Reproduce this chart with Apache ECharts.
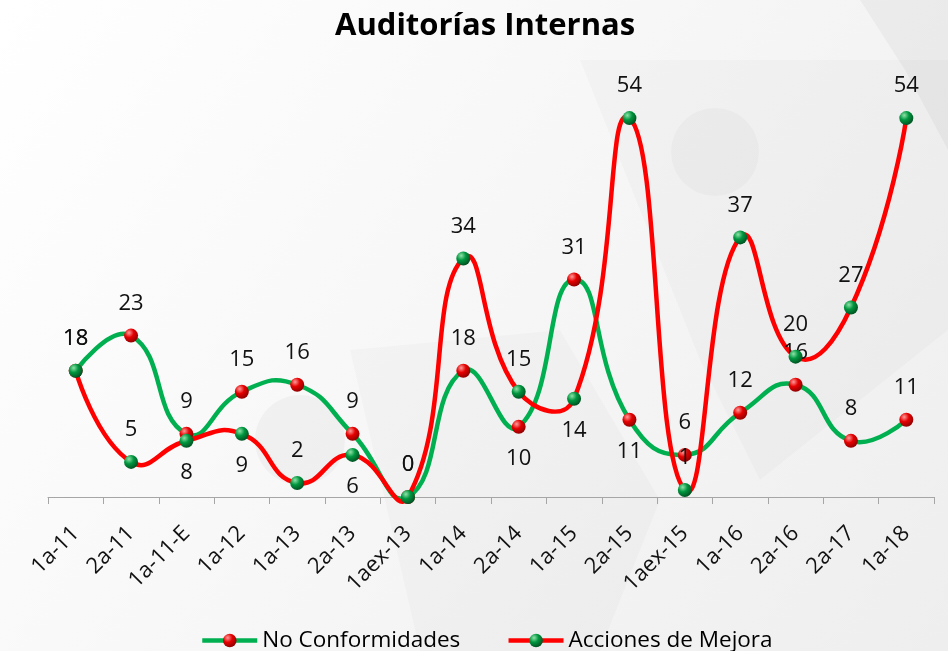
<!DOCTYPE html>
<html>
<head>
<meta charset="utf-8">
<title>Auditorías Internas</title>
<script src="https://cdn.jsdelivr.net/npm/echarts@6.0.0/dist/echarts.min.js"></script>
<style>
  html, body { margin: 0; padding: 0; background: #ffffff; }
  #chart { width: 948px; height: 651px; }
</style>
</head>
<body>
<div id="chart"></div>
<script>
// Audit periods on the category axis
const periods = ['1a-11', '2a-11', '1a-11-E', '1a-12', '1a-13', '2a-13', '1aex-13', '1a-14',
                 '2a-14', '1a-15', '2a-15', '1aex-15', '1a-16', '2a-16', '2a-17', '1a-18'];

// Findings per audit
const noConformidades = [18, 23, 9, 15, 16, 9, 0, 18, 10, 31, 11, 6, 12, 16, 8, 11];
const accionesMejora  = [18, 5, 8, 9, 2, 6, 0, 34, 15, 14, 54, 1, 37, 20, 27, 54];

// Periods whose value label is written under the point instead of above it
const ncLabelBelow = ['2a-14', '2a-15'];
const amLabelBelow = ['1a-11-E', '1a-12', '2a-13', '1a-15'];

const FONT = 'Open Sans';
const GREEN = '#00b050';
const RED = '#ff0000';
const LINE_W = 4.5;
const SMOOTH = 0.5;

function withLabels(values, below) {
  return values.map((v, i) =>
    below.includes(periods[i]) ? { value: v, label: { position: 'bottom' } } : v
  );
}

// Glossy ball used for the markers
function sphere(light, mid, dark) {
  return new echarts.graphic.RadialGradient(0.35, 0.3, 0.75, [
    { offset: 0, color: light },
    { offset: 0.45, color: mid },
    { offset: 1, color: dark }
  ]);
}

// Smoothed curve through the points, with free overshoot between points
// (control points are weighted by neighbouring segment lengths, not clamped).
function curveSeries(name, values, color, z) {
  return {
    name: name,
    type: 'custom',
    coordinateSystem: 'cartesian2d',
    data: values.map((v, i) => [i, v]),
    encode: { x: 0, y: 1 },
    silent: true,
    clip: false,
    z: z,
    renderItem: function (params, api) {
      const i = params.dataIndex;
      const n = values.length;
      if (i >= n - 1) return null;
      const pts = values.map((v, k) => api.coord([k, v]));
      const ctrl = (k) => {
        const p = pts[k];
        if (k === 0 || k === n - 1) return { inCp: p, outCp: p };
        const a = pts[k - 1], b = pts[k + 1];
        const vx = b[0] - a[0], vy = b[1] - a[1];
        const d0 = Math.hypot(p[0] - a[0], p[1] - a[1]);
        const d1 = Math.hypot(b[0] - p[0], b[1] - p[1]);
        const r = d1 / (d0 + d1);
        return {
          inCp: [p[0] - vx * SMOOTH * (1 - r), p[1] - vy * SMOOTH * (1 - r)],
          outCp: [p[0] + vx * SMOOTH * r, p[1] + vy * SMOOTH * r]
        };
      };
      const c0 = ctrl(i).outCp, c1 = ctrl(i + 1).inCp;
      return {
        type: 'bezierCurve',
        shape: {
          x1: pts[i][0], y1: pts[i][1],
          cpx1: c0[0], cpy1: c0[1],
          cpx2: c1[0], cpy2: c1[1],
          x2: pts[i + 1][0], y2: pts[i + 1][1]
        },
        style: { stroke: color, lineWidth: LINE_W, fill: 'none', lineCap: 'round' }
      };
    }
  };
}

const valueLabel = {
  show: true,
  position: 'top',
  distance: 14,
  fontFamily: FONT,
  fontSize: 22,
  color: '#111111'
};

function markerSeries(name, values, below, ball, z) {
  return {
    name: name,
    type: 'line',
    data: withLabels(values, below),
    symbol: 'circle',
    symbolSize: 14,
    lineStyle: { width: 0 },
    itemStyle: { color: ball },
    label: valueLabel,
    emphasis: { disabled: true },
    z: z
  };
}

const chart = echarts.init(document.getElementById('chart'), null, { renderer: 'canvas' });

chart.setOption({
  animation: false,
  backgroundColor: new echarts.graphic.LinearGradient(0, 0, 1, 1, [
    { offset: 0, color: '#ffffff' },
    { offset: 1, color: '#eeeeee' }
  ]),
  graphic: [
    { type: 'polygon', z: -10, silent: true,
      shape: { points: [[860, 0], [948, 0], [948, 150], [905, 70]] },
      style: { fill: 'rgba(0,0,0,0.035)' } },
    { type: 'polygon', z: -10, silent: true,
      shape: { points: [[580, 60], [948, 60], [948, 330], [760, 480], [700, 360]] },
      style: { fill: 'rgba(0,0,0,0.02)' } },
    { type: 'circle', z: -10, silent: true,
      shape: { cx: 715, cy: 152, r: 44 },
      style: { fill: 'rgba(0,0,0,0.025)' } },
    { type: 'circle', z: -10, silent: true,
      shape: { cx: 300, cy: 440, r: 45 },
      style: { fill: 'rgba(0,0,0,0.03)' } },
    { type: 'polygon', z: -10, silent: true,
      shape: { points: [[350, 350], [560, 330], [660, 500], [600, 651], [420, 651]] },
      style: { fill: 'rgba(0,0,0,0.02)' } }
  ],
  title: {
    text: 'Auditorías Internas',
    left: 330,
    top: 6,
    textStyle: { fontFamily: FONT, fontSize: 31, fontWeight: 'bold', color: '#000000' }
  },
  legend: {
    left: 195,
    top: 624,
    itemWidth: 55,
    itemHeight: 17,
    itemGap: 46,
    textStyle: { fontFamily: FONT, fontSize: 22.5, color: '#000000' },
    data: [
      { name: 'No Conformidades', lineStyle: { color: GREEN, width: LINE_W } },
      { name: 'Acciones de Mejora', lineStyle: { color: RED, width: LINE_W } }
    ]
  },
  grid: { left: 48, right: 14, top: 76, bottom: 154, containLabel: false },
  xAxis: {
    type: 'category',
    data: periods,
    boundaryGap: true,
    axisLine: { lineStyle: { color: '#a6a6a6', width: 1 } },
    axisTick: { show: true, length: 7, lineStyle: { color: '#a6a6a6' } },
    axisLabel: {
      rotate: 45,
      margin: 33,
      interval: 0,
      fontFamily: FONT,
      fontSize: 22,
      color: '#111111'
    },
    splitLine: { show: false }
  },
  yAxis: {
    type: 'value',
    min: 0,
    max: 60,
    show: false,
    splitLine: { show: false }
  },
  series: [
    curveSeries('curva No Conformidades', noConformidades, GREEN, 1),
    curveSeries('curva Acciones de Mejora', accionesMejora, RED, 2),
    markerSeries('No Conformidades', noConformidades, ncLabelBelow,
                 sphere('#ff9a9a', '#e50000', '#8a0000'), 3),
    markerSeries('Acciones de Mejora', accionesMejora, amLabelBelow,
                 sphere('#8fe3a8', '#00963f', '#004d20'), 4)
  ]
});
</script>
</body>
</html>
